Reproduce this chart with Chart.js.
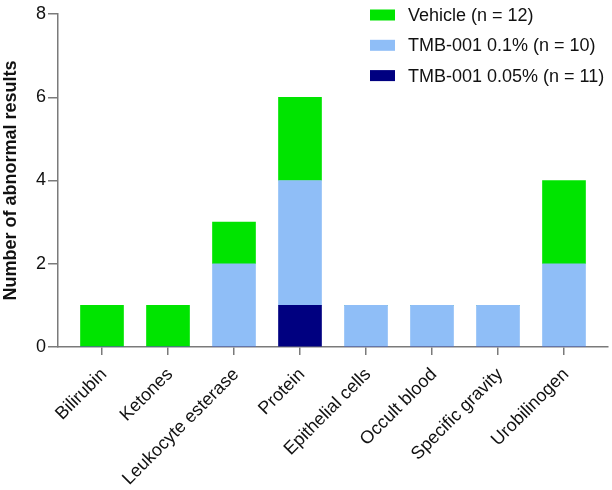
<!DOCTYPE html>
<html>
<head>
<meta charset="utf-8">
<script src="https://cdn.jsdelivr.net/npm/chart.js@4"></script>
<style>
  html, body { margin: 0; padding: 0; background: #fff; }
  #wrap { width: 612px; height: 490px; position: relative; }
</style>
</head>
<body>
<div id="wrap"><canvas id="c" width="612" height="490"></canvas></div>
<script>
const categories = ["Bilirubin", "Ketones", "Leukocyte esterase", "Protein", "Epithelial cells", "Occult blood", "Specific gravity", "Urobilinogen"];
const tmb005 = [0, 0, 0, 1, 0, 0, 0, 0];
const tmb01 = [0, 0, 2, 3, 1, 1, 1, 2];
const vehicle = [1, 1, 1, 2, 0, 0, 0, 2];
const seriesLabels = ["TMB-001 0.05% (n = 11)", "TMB-001 0.1% (n = 10)", "Vehicle (n = 12)"];
const seriesColors = ["#000080", "#8FBEF7", "#00E400"];
const yTicks = [0, 2, 4, 6, 8];

const FONT = "'Liberation Sans', Arial, sans-serif";
const AXIS = "#7a7a7a";

const toPts = arr => arr.map((v, i) => ({ x: i, y: v }));

const legendPlugin = {
  id: 'insideLegend',
  afterDraw(chart) {
    const ctx = chart.ctx;
    ctx.save();
    ctx.font = "18px " + FONT;
    ctx.textBaseline = 'middle';
    const ds = chart.data.datasets.slice().reverse();
    ds.forEach((d, i) => {
      const cy = 15 + i * 30.3;
      ctx.fillStyle = d.backgroundColor;
      ctx.fillRect(370, cy - 5.5, 25, 11);
      ctx.fillStyle = '#111';
      ctx.fillText(d.label, 408, cy + 1);
    });
    ctx.restore();
  }
};

new Chart(document.getElementById('c'), {
  type: 'bar',
  data: {
    datasets: [
      { label: seriesLabels[0], data: toPts(tmb005), backgroundColor: seriesColors[0] },
      { label: seriesLabels[1], data: toPts(tmb01), backgroundColor: seriesColors[1] },
      { label: seriesLabels[2], data: toPts(vehicle), backgroundColor: seriesColors[2] }
    ]
  },
  options: {
    responsive: false,
    animation: false,
    devicePixelRatio: 1,
    layout: { padding: { top: 14, right: 4, left: 0, bottom: 0 } },
    datasets: { bar: { barThickness: 43, borderWidth: 0 } },
    plugins: { legend: { display: false }, tooltip: { enabled: false } },
    scales: {
      x: {
        type: 'linear',
        stacked: true,
        offset: false,
        min: -2 / 3,
        max: categories.length - 1 + 2 / 3,
        afterBuildTicks: s => { s.ticks = categories.map((_, i) => ({ value: i })); },
        afterFit: s => { s.height = 143; },
        grid: { offset: false, drawOnChartArea: false, drawTicks: true, tickLength: 8, color: AXIS, lineWidth: 1.5 },
        border: { display: true, color: AXIS, width: 1.5 },
        ticks: {
          autoSkip: false,
          minRotation: 45,
          maxRotation: 45,
          padding: 9,
          labelOffset: 2,
          color: '#111',
          font: { family: FONT, size: 18 },
          callback: v => categories[v] ?? ''
        }
      },
      y: {
        stacked: true,
        min: 0,
        max: 8,
        afterBuildTicks: s => { s.ticks = yTicks.map(v => ({ value: v })); },
        afterFit: s => { s.width = 58; },
        grid: { drawOnChartArea: false, drawTicks: true, tickLength: 10, color: AXIS, lineWidth: 1.5 },
        border: { display: true, color: AXIS, width: 1.5 },
        ticks: { padding: 2, color: '#111', font: { family: FONT, size: 18 } },
        title: {
          display: true,
          text: 'Number of abnormal results',
          color: '#111',
          padding: { top: 0, bottom: 0 },
          font: { family: FONT, size: 18, weight: 'bold' }
        }
      }
    }
  },
  plugins: [legendPlugin]
});
</script>
</body>
</html>
